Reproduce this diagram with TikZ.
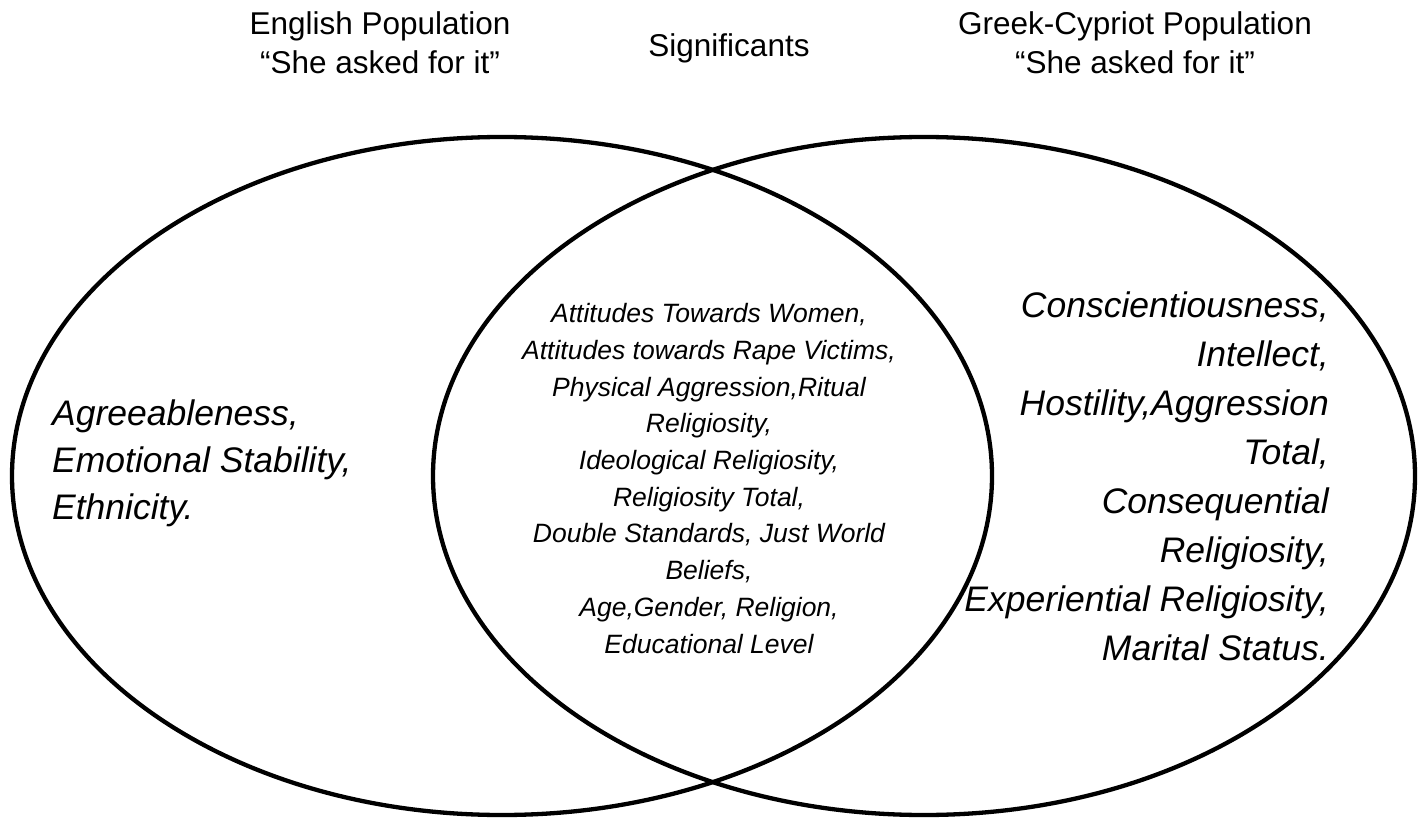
\documentclass[tikz,border=0pt]{standalone}
\usepackage{fontspec}
\setmainfont{Liberation Sans}
\begin{document}
\begin{tikzpicture}[x=1pt,y=-1pt,
  set/.style={line width=4.3pt,draw=black},
  heading/.style={font=\fontsize{31.5}{39}\selectfont,align=center,inner sep=0pt,anchor=base},
  sidelist/.style={font=\fontsize{35.5}{47}\selectfont\itshape,inner sep=0pt},
  midlist/.style={font=\fontsize{26.5}{36.7}\selectfont\itshape,align=center,inner sep=0pt,anchor=base}]
\useasboundingbox (0,0) rectangle (1421,818);

% the two sets
\draw[set] (502,476) ellipse [x radius=490, y radius=339];
\draw[set] (924,476) ellipse [x radius=491, y radius=339];

% headings (anchored at the baseline of their last line)
\node[heading] (eng) at (380,74) {English Population\\“She asked for it”};
\node[heading] (sig) at (729,57) {Significants};
\node[heading] (gc) at (1135,74) {Greek-Cypriot Population\\“She asked for it”};

% English-only factors
\node[sidelist,align=left,anchor=base west] (left) at (52,519)
  {Agreeableness,\\Emotional Stability,\\Ethnicity.};

% shared factors
\node[midlist] (mid) at (709,653)
  {Attitudes Towards Women,\\Attitudes towards Rape Victims,\\Physical Aggression,Ritual\\Religiosity,\\Ideological Religiosity,\\Religiosity Total,\\Double Standards, Just World\\Beliefs,\\Age,Gender, Religion,\\Educational Level};

% Greek-Cypriot-only factors
\node[sidelist,font=\fontsize{35.5}{49}\selectfont\itshape,align=right,anchor=base east] (right) at (1329,660)
  {Conscientiousness,\\Intellect,\\Hostility,Aggression\\Total,\\Consequential\\Religiosity,\\Experiential Religiosity,\\Marital Status.};
\end{tikzpicture}
\end{document}
